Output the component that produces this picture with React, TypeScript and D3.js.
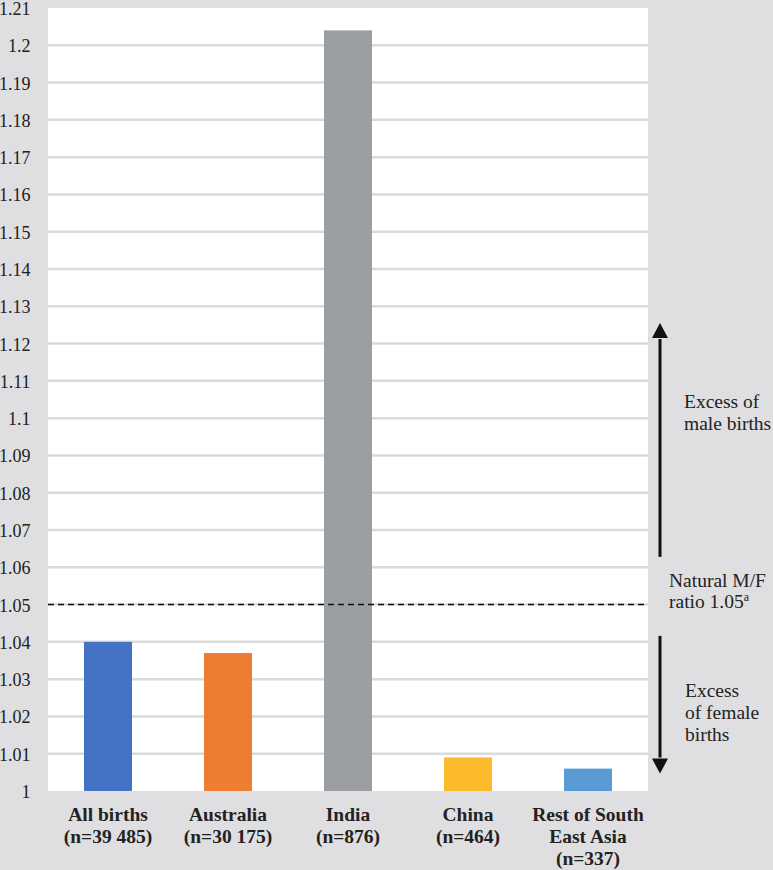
import React from "react";
import * as d3 from "d3";

const categories = ["All births", "Australia", "India", "China", "Rest of South East Asia"];
const labelLines = [
  ["All births", "(n=39 485)"],
  ["Australia", "(n=30 175)"],
  ["India", "(n=876)"],
  ["China", "(n=464)"],
  ["Rest of South", "East Asia", "(n=337)"],
];
const values = [1.04, 1.037, 1.204, 1.009, 1.006];
const colors = ["#4472c4", "#ed7d31", "#9c9fa2", "#fbbb2c", "#5b9bd5"];
const yTicks = d3.range(0, 22).map((i) => +(1 + i * 0.01).toFixed(2));
const naturalRatio = 1.05;

const FONT = "'Liberation Serif'";

export default function App() {
  const W = 773, H = 870;
  const left = 48, right = 648, top = 8, bottom = 791;
  const x = d3.scaleBand<string>().domain(categories).range([left, right]).padding(0);
  const y = d3.scaleLinear().domain([1, 1.21]).range([bottom, top]);
  const bw = x.bandwidth() * 0.4;
  const ax = 660;
  const ts = { fontFamily: FONT };
  const upTip = y(1.1255), upBase = y(1.1215), upEnd = y(1.0628);
  const dnTip = y(1.0047), dnBase = y(1.0087), dnStart = y(1.0416);
  return (
    <svg width={W} height={H} style={{ position: "absolute", left: 0, top: 0 }}>
      <rect x={0} y={0} width={W} height={H} fill="#dfdfe1" />
      <rect x={left} y={top} width={right - left} height={bottom - top} fill="#ffffff" />
      {yTicks.map((t) => (
        <g key={t}>
          {t > 1 && t < 1.21 && (
            <line x1={left} x2={right} y1={y(t)} y2={y(t)} stroke="#dadadc" strokeWidth={2.5} />
          )}
          <text x={30.5} y={Math.max(y(t) + 7, 14)} textAnchor="end" fontSize={18} fill="#222" style={ts}>
            {String(t)}
          </text>
        </g>
      ))}
      {categories.map((c, i) => (
        <rect
          key={c}
          x={x(c)! + (x.bandwidth() - bw) / 2}
          y={y(values[i])}
          width={bw}
          height={y(1) - y(values[i])}
          fill={colors[i]}
        />
      ))}
      <line x1={left} x2={right} y1={y(naturalRatio)} y2={y(naturalRatio)} stroke="#111" strokeWidth={1.5} strokeDasharray="6,4" />
      {categories.map((c, i) => (
        <text key={c} x={x(c)! + x.bandwidth() / 2} textAnchor="middle" fontSize={19.5} fontWeight="bold" fill="#222" style={ts}>
          {labelLines[i].map((l, j) => (
            <tspan key={j} x={x(c)! + x.bandwidth() / 2} y={821 + j * 22}>
              {l}
            </tspan>
          ))}
        </text>
      ))}
      {/* up arrow */}
      <line x1={ax} x2={ax} y1={upEnd} y2={upBase + 1} stroke="#111" strokeWidth={3} />
      <path d={`M${ax - 8},${upBase} L${ax},${upTip} L${ax + 8},${upBase} Z`} fill="#111" />
      {/* down arrow */}
      <line x1={ax} x2={ax} y1={dnStart} y2={dnBase - 1} stroke="#111" strokeWidth={3} />
      <path d={`M${ax - 8},${dnBase} L${ax},${dnTip} L${ax + 8},${dnBase} Z`} fill="#111" />
      <text fontSize={19.5} fill="#222" style={ts}>
        <tspan x={684} y={408}>Excess of</tspan>
        <tspan x={684} y={430}>male births</tspan>
      </text>
      <text fontSize={19.5} fill="#222" style={ts}>
        <tspan x={669} y={587}>Natural M/F</tspan>
        <tspan x={669} y={608}>ratio 1.05</tspan>
        <tspan fontSize={12} dy={-7}>a</tspan>
      </text>
      <text fontSize={19.5} fill="#222" style={ts}>
        <tspan x={685} y={697}>Excess</tspan>
        <tspan x={685} y={719}>of female</tspan>
        <tspan x={685} y={741}>births</tspan>
      </text>
    </svg>
  );
}
